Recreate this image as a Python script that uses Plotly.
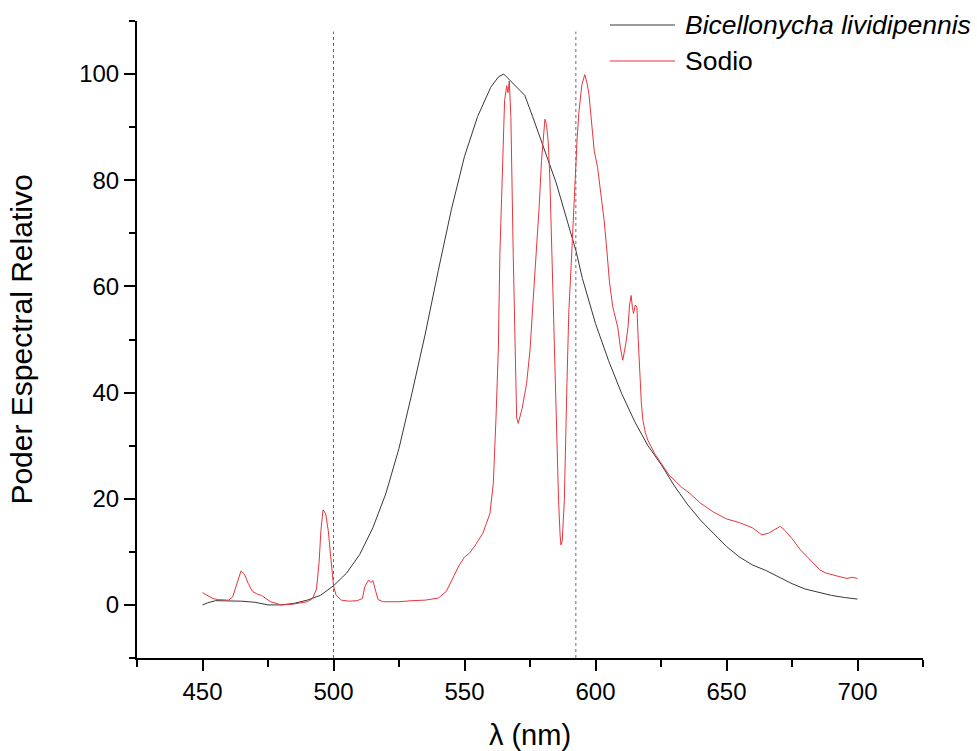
import plotly.graph_objects as go

# ---- data ----
bic_x = [450, 452, 455, 460, 465, 470, 472, 475, 480, 485, 490, 495, 500, 505, 510, 515, 520, 525, 530,
         535, 540, 545, 550, 555, 560, 563, 565, 567, 570, 573, 576, 580, 585, 590, 592.5, 595, 600, 605,
         610, 615, 620, 625, 630, 635, 640, 645, 650, 655, 660, 665, 670, 675, 680, 685, 690, 695, 700]
bic_y = [0.0, 0.4, 0.8, 0.8, 0.7, 0.5, 0.3, 0.0, 0.0, 0.3, 0.9, 1.8, 3.6, 6.0, 9.5, 14.5, 21.0, 29.5, 40.0,
         51.0, 63.0, 74.5, 84.5, 92.0, 97.5, 99.5, 100.0, 99.0, 97.5, 96.0, 92.0, 86.5, 79.5, 71.0, 66.8, 61.5,
         53.0, 46.0, 39.8, 34.5, 30.0, 26.5, 22.5, 19.0, 16.0, 13.5, 11.0, 9.0, 7.5, 6.5, 5.2, 4.0, 3.0, 2.4,
         1.8, 1.4, 1.1]

na_x = [450, 452, 454, 456, 458, 460, 461.5, 463, 464.7, 466, 467.5, 469, 471, 472.5, 474, 476, 478, 480,
        484, 487, 490, 492, 493.5, 494.5, 495.2, 496, 497, 498, 499, 500, 501, 503, 506, 509, 511, 512,
        513.4, 514.3, 515, 516, 517, 519, 525, 530, 535, 540, 543, 546, 548, 550, 552, 554.6, 557, 559.7,
        561, 562, 562.9, 563.5, 564.5, 565.3, 566.1, 566.6, 567.1, 567.7, 568.6, 569.3, 569.9, 570.5, 572,
        573.7, 575, 576.2, 577.5, 578.5, 579.4, 580.2, 580.7, 581.3, 582, 582.6, 583.3, 584, 584.6, 585.3,
        585.9, 586.5, 586.8, 587.3, 588.1, 589.1, 589.8, 591, 592, 593, 593.7, 594.8, 595.9, 596.7, 597.5,
        598.5, 599.5, 600.8, 602, 603.3, 604.3, 605.3, 606.6, 608.5, 609.5, 610.4, 611.5, 612.4, 613, 613.6,
        614.1, 614.5, 615.2, 615.8, 616.3, 616.8, 617.5, 618.1, 619, 620, 622.6, 625.2, 628, 632.8, 636,
        640, 645, 650, 655, 660, 663.5, 666, 668.5, 670.5, 672, 675, 678, 681.8, 685.6, 688, 690, 693.3,
        696, 698, 700]
na_y = [2.3, 1.8, 1.2, 1.0, 0.9, 0.9, 1.5, 4.0, 6.4, 5.8, 4.0, 2.6, 2.0, 1.8, 1.3, 0.6, 0.3, 0.0,
        0.1, 0.3, 0.6, 1.2, 3.0, 8.0, 14.0, 17.9, 17.2, 14.0, 8.0, 3.6, 1.8, 0.9, 0.7, 0.8, 1.2, 3.5,
        4.7, 4.2, 4.6, 2.5, 1.0, 0.6, 0.6, 0.8, 0.9, 1.3, 2.5, 5.5, 7.5, 9.0, 9.8, 11.6, 13.5, 17.2,
        22.9, 35.0, 48.0, 66.0, 85.0, 95.0, 97.8, 96.5, 98.7, 92.0, 66.0, 48.0, 35.4, 34.2, 37.0,
        41.7, 48.0, 57.4, 66.8, 75.0, 83.7, 89.0, 91.5, 90.5, 87.0, 80.0, 66.0, 52.0, 41.7, 30.0,
        19.7, 13.0, 11.3, 12.0, 19.7, 41.7, 55.0, 67.0, 78.0, 88.0, 93.0, 98.0, 99.9, 98.5, 96.2,
        91.0, 85.6, 82.4, 77.5, 72.4, 67.0, 61.0, 56.1, 52.3, 48.5, 46.1, 49.0, 52.3, 56.5, 58.3,
        56.0, 54.9, 56.5, 56.1, 50.0, 44.8, 38.0, 34.8, 32.5, 31.0, 28.5, 26.6, 24.5, 22.2, 21.0,
        19.2, 17.5, 16.2, 15.5, 14.5, 13.2, 13.5, 14.3, 14.8, 14.2, 12.5, 10.5, 8.5, 6.6, 6.0, 5.7, 5.3,
        5.0, 5.2, 5.0]

vlines = [500, 592.5]
vline_range = [-10, 108]
series_names = ["<i>Bicellonycha lividipennis</i>", "Sodio"]
x_title = "λ (nm)"
y_title = "Poder Espectral Relativo"

FONT = "Liberation Sans, Arial, sans-serif"
BLACK_C = "#383838"
RED_C = "#e8353b"

fig = go.Figure()
for xv in vlines:
    fig.add_trace(go.Scatter(x=[xv, xv], y=vline_range, mode="lines", showlegend=False,
                             line=dict(color="#5c6898", width=1, dash="dot"), hoverinfo="skip"))
fig.add_trace(go.Scatter(x=bic_x, y=bic_y, mode="lines", name=series_names[0], showlegend=False,
                         line=dict(color=BLACK_C, width=1)))
fig.add_trace(go.Scatter(x=na_x, y=na_y, mode="lines", name=series_names[1], showlegend=False,
                         line=dict(color=RED_C, width=1)))

# manual legend (paper coords)
leg_items = [(series_names[0], BLACK_C, 0.9937), (series_names[1], RED_C, 0.9372)]
for txt, col, yy in leg_items:
    fig.add_shape(type="line", xref="paper", yref="paper", x0=0.6018, x1=0.6845, y0=yy, y1=yy,
                  line=dict(color=col, width=1))
    fig.add_annotation(xref="paper", yref="paper", x=0.695, y=yy, text=txt, showarrow=False,
                       xanchor="left", yanchor="middle", font=dict(family=FONT, size=26.5, color="#000"))

fig.update_layout(
    width=977, height=751,
    margin=dict(l=137, r=54, t=21, b=93),
    paper_bgcolor="white", plot_bgcolor="white",
    font=dict(family=FONT, color="#000"),
    showlegend=False,
)
fig.update_xaxes(range=[425, 725], tick0=450, dtick=50, ticks="outside", ticklen=11, tickwidth=2,
                 tickcolor="#000", showline=True, linewidth=2, linecolor="#000", showgrid=False,
                 zeroline=False, tickfont=dict(family=FONT, size=24), automargin=False,
                 minor=dict(dtick=25, tick0=450, ticks="outside", ticklen=7, tickwidth=2, tickcolor="#000"),
                 title=dict(text=x_title, font=dict(family=FONT, size=29), standoff=26))
fig.update_yaxes(range=[-10, 110], tick0=0, dtick=20, ticks="outside", ticklen=11, tickwidth=2,
                 tickcolor="#000", showline=True, linewidth=2, linecolor="#000", showgrid=False,
                 zeroline=False, tickfont=dict(family=FONT, size=24), automargin=False,
                 minor=dict(dtick=10, tick0=0, ticks="outside", ticklen=6, tickwidth=2, tickcolor="#000"),
                 title=dict(text=y_title, font=dict(family=FONT, size=30), standoff=38))

fig.write_html("out.html")
